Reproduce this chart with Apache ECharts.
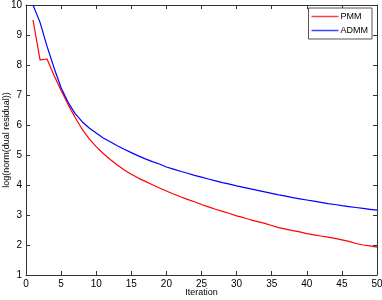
<!DOCTYPE html>
<html>
<head>
<meta charset="utf-8">
<script src="https://cdn.jsdelivr.net/npm/echarts@6/dist/echarts.min.js"></script>
<style>
  html, body { margin: 0; padding: 0; background: #fff; }
  #chart { width: 382px; height: 300px; }
</style>
</head>
<body>
<div id="chart"></div>
<script>
  // iteration index and the two residual curves
  const iterations = [];
  for (let i = 1; i <= 50; i++) iterations.push(i);

  const pmm = [
    9.50, 8.17, 8.20, 7.65, 7.15, 6.68, 6.25, 5.86, 5.54, 5.28,
    5.05, 4.85, 4.67, 4.50, 4.36, 4.23, 4.12, 4.01, 3.90, 3.80,
    3.70, 3.61, 3.52, 3.44, 3.35, 3.27, 3.19, 3.12, 3.05, 2.97,
    2.91, 2.84, 2.78, 2.72, 2.65, 2.58, 2.53, 2.48, 2.44, 2.38,
    2.34, 2.30, 2.26, 2.22, 2.17, 2.12, 2.05, 2.00, 1.97, 1.93
  ];

  const admm = [
    10.0, 9.42, 8.62, 7.90, 7.24, 6.76, 6.38, 6.11, 5.90, 5.73,
    5.57, 5.44, 5.31, 5.19, 5.08, 4.97, 4.87, 4.78, 4.70, 4.60,
    4.53, 4.46, 4.39, 4.32, 4.26, 4.20, 4.14, 4.08, 4.03, 3.97,
    3.92, 3.87, 3.82, 3.77, 3.72, 3.67, 3.63, 3.58, 3.54, 3.50,
    3.46, 3.42, 3.38, 3.35, 3.31, 3.28, 3.25, 3.22, 3.19, 3.16
  ];

  const font = 'Liberation Sans, Arial, sans-serif';
  const axisColor = '#333';

  const chart = echarts.init(document.getElementById('chart'), null, { renderer: 'canvas' });

  // matlab-ish box: ticks inside, mirrored on top/right
  const boxX = {
    type: 'value', min: 0, max: 50, interval: 5,
    axisLine: { show: true, onZero: false, lineStyle: { color: axisColor, width: 1 } },
    axisTick: { show: true, inside: true, length: 4, lineStyle: { color: axisColor } },
    splitLine: { show: false }
  };
  const boxY = {
    type: 'value', min: 1, max: 10, interval: 1,
    axisLine: { show: true, onZero: false, lineStyle: { color: axisColor, width: 1 } },
    axisTick: { show: true, inside: true, length: 4, lineStyle: { color: axisColor } },
    splitLine: { show: false }
  };

  chart.setOption({
    animation: false,
    backgroundColor: '#fff',
    grid: { left: 26, right: 5, top: 5, bottom: 25, outerBoundsMode: 'none', containLabel: false },
    legend: {
      data: [
        { name: 'PMM', itemStyle: { color: '#ff4040' } },
        { name: 'ADMM', itemStyle: { color: '#4040ff' } }
      ],
      orient: 'vertical',
      right: 10,
      top: 8,
      padding: [3, 4, 3, 3],
      itemGap: 3,
      itemWidth: 27,
      itemHeight: 1.5,
      icon: 'rect',
      backgroundColor: '#fff',
      borderColor: '#555',
      borderWidth: 1,
      borderRadius: 0,
      textStyle: { fontFamily: font, fontSize: 9, color: '#000', padding: [0, 0, 0, -3], lineHeight: 11 }
    },
    xAxis: [
      Object.assign({}, boxX, {
        position: 'bottom',
        name: 'Iteration',
        nameLocation: 'middle',
        nameGap: 13,
        nameMoveOverlap: false,
        nameTextStyle: { fontFamily: font, fontSize: 9, color: '#000' },
        axisLabel: { fontFamily: font, fontSize: 10, color: '#000', margin: 4 }
      }),
      Object.assign({}, boxX, { position: 'top', axisLabel: { show: false } })
    ],
    yAxis: [
      Object.assign({}, boxY, {
        position: 'left',
        name: 'log(norm(dual residual))',
        nameLocation: 'middle',
        nameGap: 15,
        nameMoveOverlap: false,
        nameTextStyle: { fontFamily: font, fontSize: 9, color: '#000' },
        axisLabel: { fontFamily: font, fontSize: 10, color: '#000', margin: 4 }
      }),
      Object.assign({}, boxY, { position: 'right', axisLabel: { show: false } })
    ],
    series: [
      {
        name: 'PMM',
        type: 'line',
        symbol: 'none',
        data: iterations.map((x, i) => [x, pmm[i]]),
        lineStyle: { color: '#ff0000', width: 1.2 },
        itemStyle: { color: '#ff0000' }
      },
      {
        name: 'ADMM',
        type: 'line',
        symbol: 'none',
        data: iterations.map((x, i) => [x, admm[i]]),
        lineStyle: { color: '#0000ff', width: 1.2 },
        itemStyle: { color: '#0000ff' }
      }
    ]
  });
</script>
</body>
</html>
